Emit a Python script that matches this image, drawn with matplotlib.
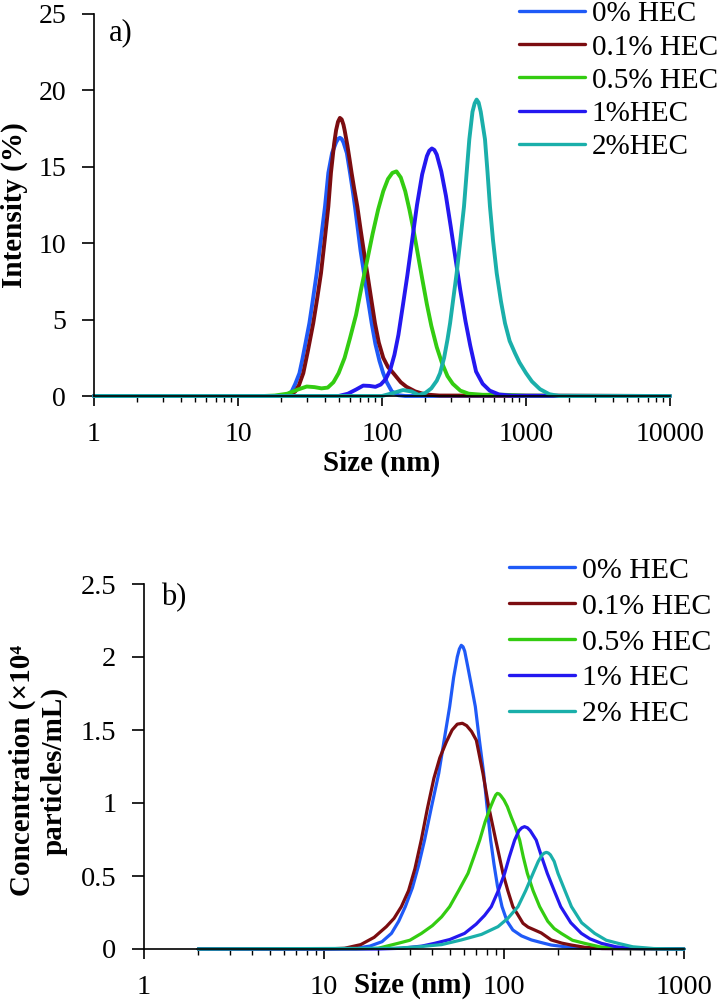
import matplotlib
matplotlib.use('Agg')
import matplotlib.pyplot as plt
from matplotlib import ticker

plt.rcParams['font.family'] = ['Liberation Serif', 'DejaVu Serif']

# ---- panel a: DLS intensity distribution
labels_a = ['0% HEC', '0.1% HEC', '0.5% HEC', '1%HEC', '2%HEC']

a_size_0 = [1, 10, 20, 22, 23.6, 25, 26.7, 28, 29.5, 31.3, 33, 35.2, 37.5, 40.2, 42.4, 45, 48, 49.5, 51, 52.5, 54, 57,
            60, 62.5, 64.9, 68, 71, 75, 79, 84.8, 90, 96, 102, 108, 117, 130, 145, 10000]
a_int_0 = [0, 0, 0, 0.05, 0.3, 0.8, 1.49, 2.4, 3.5, 4.76, 6.2, 8.04, 10.1, 12.4, 14.6, 15.9, 16.6, 16.82, 16.9, 16.82, 16.6, 15.9,
           14.6, 13.5, 12.4, 10.9, 9.5, 8.04, 6.6, 4.76, 3.4, 2.3, 1.49, 0.9, 0.3, 0.05, 0, 0]

a_size_1 = [1, 20, 23, 25, 26.5, 28.4, 30.5, 33.3, 35.5, 37.7, 40, 42.4, 44.2, 46.5, 48, 49.5, 51, 52.5, 54, 55, 57.5, 59.5,
            61.5, 64, 67.4, 71, 75, 79, 84, 89.4, 95, 102, 110, 120, 135, 148, 170, 200, 250, 10000]
a_int_1 = [0, 0, 0.05, 0.3, 0.7, 1.49, 2.9, 4.76, 6.4, 8.04, 10.2, 12.4, 14.6, 16.5, 17.4, 17.95, 18.2, 18.1, 17.75, 17.4, 16.4, 15.5,
           14.6, 13.6, 12.4, 10.9, 9.4, 8.04, 6.4, 4.76, 3.5, 2.5, 1.9, 1.49, 0.9, 0.6, 0.3, 0.1, 0.03, 0]

a_size_2 = [1, 15, 18, 22, 26, 30, 34, 38, 42, 46, 50, 55, 60, 66, 72, 79, 86, 94, 102, 110,
            118, 126, 135, 145, 155, 166, 178, 190, 205, 220, 240, 260, 285, 310, 350, 400, 500, 700, 1000, 10000]
a_int_2 = [0, 0, 0.03, 0.15, 0.42, 0.62, 0.58, 0.5, 0.55, 0.9, 1.5, 2.5, 3.8, 5.3, 7.1, 8.9, 10.6, 12.2, 13.4, 14.2,
           14.6, 14.7, 14.3, 13.4, 12.2, 10.8, 9.2, 7.7, 6.0, 4.6, 3.2, 2.2, 1.3, 0.8, 0.35, 0.15, 0.08, 0.08, 0.02, 0]

a_size_3 = [1, 40, 50, 58, 66, 74, 82, 90, 98, 106, 114, 122, 130, 140, 150, 162, 175, 190, 205, 213, 222, 231,
            240, 258, 278, 300, 325, 350, 380, 410, 450, 500, 560, 650, 800, 10000]
a_int_3 = [0, 0, 0, 0.15, 0.42, 0.68, 0.66, 0.6, 0.75, 1.1, 1.7, 2.7, 4.0, 6.0, 7.9, 10.2, 12.5, 14.5, 15.7, 16.05, 16.2, 16.1,
           15.8, 14.7, 13.1, 11.1, 8.9, 6.9, 4.9, 3.3, 1.6, 0.8, 0.35, 0.1, 0.02, 0]

a_size_4 = [1, 100, 120, 140, 160, 180, 200, 220, 240, 253, 270, 285, 297, 312, 330, 350, 371, 390, 404, 425, 440,
            454, 469, 485, 519, 540, 562, 590, 626, 670, 715, 770, 839, 900, 1000, 1100, 1250, 1450, 1700, 10000]
a_int_4 = [0, 0, 0.2, 0.39, 0.3, 0.07, 0.2, 0.5, 1.0, 1.49, 2.5, 3.7, 4.76, 6.3, 8.04, 10.2, 12.4, 15.0, 16.8, 18.6, 19.15,
           19.4, 19.2, 18.6, 16.8, 14.7, 12.4, 10.2, 8.04, 6.2, 4.76, 3.6, 2.8, 2.2, 1.5, 0.95, 0.45, 0.12, 0, 0]

# ---- panel b: NTA concentration distribution
labels_b = ['0% HEC', '0.1% HEC', '0.5% HEC', '1% HEC', '2% HEC']

b_size_0 = [2, 10, 15, 18, 21, 23.7, 26, 28.3, 31, 33.5, 36.2, 39.5, 43.4, 46.5, 49.9, 52.5, 55, 56.5, 57.9, 59.2, 60.5, 63,
            66, 69.3, 73, 77.1, 80.5, 84.3, 88, 92, 97.5, 104, 112, 125, 142, 160, 183, 230, 300, 1000]
b_conc_0 = [0, 0, 0.005, 0.02, 0.05, 0.107, 0.19, 0.29, 0.42, 0.57, 0.746, 0.97, 1.203, 1.43, 1.66, 1.86, 2.0, 2.055, 2.08, 2.07, 2.04, 1.93,
            1.8, 1.66, 1.43, 1.203, 0.975, 0.746, 0.58, 0.43, 0.29, 0.19, 0.13, 0.09, 0.062, 0.045, 0.027, 0.012, 0.004, 0]

b_size_1 = [2, 10, 13, 16, 19, 22.2, 24.5, 26.9, 29.5, 32, 34.7, 37.5, 40.8, 44, 47.9, 51.5, 55, 58.7, 62, 66,
            70.2, 76.4, 82.2, 90, 98.7, 105, 112, 120, 127.5, 136, 148, 161, 183, 210, 237, 280, 350, 1000]
b_conc_1 = [0, 0, 0.005, 0.03, 0.08, 0.153, 0.21, 0.29, 0.4, 0.55, 0.746, 0.96, 1.17, 1.31, 1.42, 1.5, 1.54, 1.546, 1.53, 1.49,
            1.43, 1.203, 0.975, 0.746, 0.518, 0.4, 0.29, 0.23, 0.176, 0.15, 0.13, 0.11, 0.062, 0.04, 0.027, 0.012, 0.003, 0]

b_size_2 = [2, 15, 20, 25.8, 30, 34.8, 40, 45, 49.9, 56, 63.1, 68, 73.3, 78.5, 84.3, 88, 90, 91.8, 94, 96, 100, 104.4,
            110, 116, 122.2, 128, 134.8, 145, 157.8, 175, 190, 208, 240, 280, 340, 420, 1000]
b_conc_2 = [0, 0, 0.005, 0.039, 0.06, 0.107, 0.16, 0.22, 0.29, 0.4, 0.518, 0.63, 0.746, 0.87, 0.975, 1.03, 1.055, 1.066, 1.062, 1.05, 1.02, 0.975,
            0.9, 0.83, 0.746, 0.63, 0.518, 0.4, 0.29, 0.19, 0.14, 0.107, 0.06, 0.039, 0.015, 0.004, 0]

b_size_3 = [2, 20, 27, 35, 41.2, 50, 60.4, 70, 78, 85, 93, 100.8, 107, 114.6, 121, 125.5, 130, 135, 140, 151, 162, 174,
            190, 206.6, 235, 269, 300, 347, 420, 520, 1000]
b_conc_3 = [0, 0, 0.005, 0.02, 0.039, 0.065, 0.107, 0.17, 0.23, 0.29, 0.4, 0.518, 0.63, 0.746, 0.81, 0.83, 0.838, 0.83, 0.81, 0.746, 0.63, 0.518,
            0.4, 0.29, 0.18, 0.107, 0.07, 0.039, 0.015, 0.004, 0]

b_size_4 = [2, 25, 33.3, 45, 57.9, 75, 92.6, 105, 119.6, 132, 145, 155, 163, 167.5, 172, 176.5, 181, 190, 199.5, 218, 237, 270,
            319, 370, 430, 520, 680, 1000]
b_conc_4 = [0, 0.005, 0.015, 0.03, 0.062, 0.1, 0.153, 0.21, 0.29, 0.4, 0.518, 0.6, 0.645, 0.657, 0.662, 0.657, 0.645, 0.6, 0.518, 0.4, 0.29, 0.18,
            0.107, 0.06, 0.039, 0.015, 0.003, 0]

colors = ['#1f5af7', '#7b0c10', '#33cc11', '#2418f0', '#1aafaa']

W, H = 722, 1002
fig = plt.figure(figsize=(W / 100, H / 100), dpi=100)
ax_a = fig.add_axes([94 / W, 1 - 396 / H, 576 / W, 382 / H])
ax_b = fig.add_axes([144 / W, 1 - 949 / H, 540 / W, 365 / H])


def style(ax, xmax, ymax, yticks, yticklabels, fs):
    ax.set_xscale('log')
    ax.set_xlim(1, xmax)
    ax.set_ylim(0, ymax)
    for s in ['top', 'right']:
        ax.spines[s].set_visible(False)
    for s in ['left', 'bottom']:
        ax.spines[s].set_linewidth(1.2)
    ax.xaxis.set_major_locator(ticker.LogLocator(base=10, numticks=10))
    ax.xaxis.set_major_formatter(ticker.FuncFormatter(lambda v, p: f'{v:g}'))
    ax.xaxis.set_minor_locator(ticker.LogLocator(base=10, subs=range(2, 10), numticks=10))
    ax.xaxis.set_minor_formatter(ticker.NullFormatter())
    ax.set_yticks(yticks)
    ax.set_yticklabels(yticklabels)
    ax.tick_params(axis='x', which='major', direction='out', length=7, width=1.2, labelsize=fs, pad=12)
    ax.tick_params(axis='x', which='minor', direction='out', length=4, width=1.0)
    ax.tick_params(axis='y', direction='out', length=9, width=1.2, labelsize=fs, pad=11)


# panel a
for x, y, c, lab in zip([a_size_0, a_size_1, a_size_2, a_size_3, a_size_4],
                        [a_int_0, a_int_1, a_int_2, a_int_3, a_int_4], colors, labels_a):
    ax_a.plot(x, y, color=c, lw=2.8, label=lab, clip_on=False, solid_capstyle='round', solid_joinstyle='round')
style(ax_a, 10000, 25, [0, 5, 10, 15, 20, 25], ['0', '5', '10', '15', '20', '25'], 20)
ax_a.set_xlabel('Size (nm)', fontsize=21, fontweight='bold', va='center')
ax_a.xaxis.set_label_coords(0.5, (396 - 463) / 382)
ax_a.set_ylabel('Intensity (%)', fontsize=21, fontweight='bold', va='center')
ax_a.yaxis.set_label_coords((14 - 94) / 576, 0.5)
leg_a = ax_a.legend(loc='upper left', bbox_to_anchor=(519 / W, 1 - 1 / H), bbox_transform=fig.transFigure,
                    frameon=False, fontsize=21, handlelength=2.26, handletextpad=0.24,
                    labelspacing=0.23, borderpad=0, borderaxespad=0)
for ln in leg_a.get_lines():
    ln.set_linewidth(2.4)
fig.text(109 / W, 1 - 33 / H, 'a)', fontsize=22, va='center', ha='left')

# panel b
for x, y, c, lab in zip([b_size_0, b_size_1, b_size_2, b_size_3, b_size_4],
                        [b_conc_0, b_conc_1, b_conc_2, b_conc_3, b_conc_4], colors, labels_b):
    ax_b.plot(x, y, color=c, lw=2.3, label=lab, clip_on=False, solid_capstyle='round', solid_joinstyle='round')
style(ax_b, 1000, 2.5, [0, 0.5, 1, 1.5, 2, 2.5], ['0', '0.5', '1', '1.5', '2', '2.5'], 20.5)
ax_b.set_xlabel('Size (nm)', fontsize=21, fontweight='bold', va='center')
ax_b.xaxis.set_label_coords(0.498, (949 - 985) / 365)
ax_b.set_ylabel('Concentration (\u00d710\u2074\nparticles/mL)', fontsize=21, fontweight='bold',
                va='center', ha='center', linespacing=1.2)
ax_b.yaxis.set_label_coords((38 - 144) / 540, (949 - 771) / 365)
leg_b = ax_b.legend(loc='upper left', bbox_to_anchor=(509 / W, 1 - 557 / H), bbox_transform=fig.transFigure,
                    frameon=False, fontsize=21.5, handlelength=2.2, handletextpad=0.23,
                    labelspacing=0.3, borderpad=0, borderaxespad=0)
for ln in leg_b.get_lines():
    ln.set_linewidth(2.4)
fig.text(161 / W, 1 - 598 / H, 'b)', fontsize=22, va='center', ha='left')

fig.savefig('out.png', dpi=100)
